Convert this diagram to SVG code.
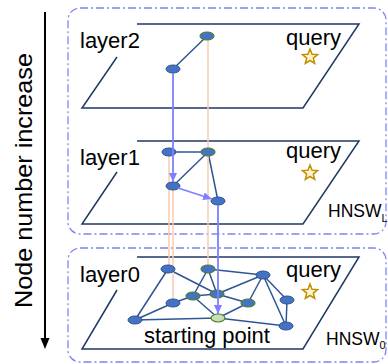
<svg xmlns="http://www.w3.org/2000/svg" width="388" height="364" viewBox="0 0 388 364">
<style>
.box{fill:none;stroke:#7F86F0;stroke-width:1.3;stroke-dasharray:8 3 2 3}
.plane{fill:none;stroke:#203864;stroke-width:1.5}
.edge{stroke:#2F5597;stroke-width:1.5;fill:none}
.up{stroke:#F8CBAD;stroke-width:1.5;fill:none}
.path{stroke:#7F7FFF;stroke-width:1.8;fill:none;marker-end:url(#ah)}
.n{fill:#4472C4;stroke:#2F528F;stroke-width:1}
.g{fill:#4472C4;stroke:#507E32;stroke-width:1.2}
.s{fill:#C5E0B4;stroke:#507E32;stroke-width:1.2}
.t{font-family:"Liberation Sans",Arial,sans-serif;font-size:22px;fill:#000}
.h{font-family:"Liberation Sans",Arial,sans-serif;font-size:17.5px;fill:#000}
.sub{font-family:"Liberation Sans",Arial,sans-serif;font-size:11px;fill:#000}
.star{fill:#FFF2CC;stroke:#BF9000;stroke-width:1.5;stroke-linejoin:miter}
</style>
<defs>
<marker id="ah" markerUnits="userSpaceOnUse" markerWidth="9" markerHeight="8" refX="9" refY="4" orient="auto">
<path d="M0,0 L9,4 L0,8 z" fill="#7F7FFF"/>
</marker>
<polygon id="star" points="0,-8 2.06,-2.83 7.61,-2.47 3.33,1.08 4.70,6.47 0,3.5 -4.70,6.47 -3.33,1.08 -7.61,-2.47 -2.06,-2.83"/>
</defs>

<g id="axis">
<line x1="45" y1="12" x2="45" y2="340" stroke="#000" stroke-width="2"/>
<path d="M40.5,338 L49.5,338 L45,349 z" fill="#000"/>
<text class="t" transform="translate(32,180.5) rotate(-90)" text-anchor="middle" font-size="24" textLength="255" lengthAdjust="spacingAndGlyphs" style="font-size:24px">Node number increase</text>
</g>

<g id="hnswL">
<rect class="box" x="68" y="8" width="318" height="226" rx="12"/>
<text class="h" x="328" y="217">HNSW<tspan class="sub" dy="5">L</tspan></text>
</g>
<g id="hnsw0">
<rect class="box" x="68" y="248" width="318" height="114" rx="12"/>
<text class="h" x="326" y="345">HNSW<tspan class="sub" dy="4">0</tspan></text>
</g>

<g id="layer2">
<path class="plane" d="M137,24 L359,24 L303,108 L82,108 L117,57"/>
<text class="t" x="80" y="48">layer2</text>
<text class="t" x="286" y="45">query</text>
<use href="#star" class="star" x="310" y="57"/>
</g>
<g id="layer1">
<path class="plane" d="M137,141 L359,141 L303,224 L82,224 L117,172"/>
<text class="t" x="80" y="165">layer1</text>
<text class="t" x="286" y="158">query</text>
<use href="#star" class="star" x="310" y="173"/>
</g>
<g id="layer0">
<path class="plane" d="M137,257 L359,257 L303,349 L82,349 L117,290"/>
<text class="t" x="80" y="282">layer0</text>
<text class="t" x="286" y="277">query</text>
<use href="#star" class="star" x="310" y="292"/>
<text class="t" x="144" y="343">starting point</text>
</g>

<g id="connectors">
<line class="edge" x1="173" y1="69" x2="207" y2="36"/>
<line class="edge" x1="169" y1="152" x2="208" y2="152"/>
<line class="edge" x1="208" y1="152" x2="173" y2="186"/>
<line class="edge" x1="208" y1="152" x2="218" y2="201"/>
<line class="edge" x1="168" y1="269" x2="135" y2="320"/>
<line class="edge" x1="168" y1="269" x2="217" y2="294"/>
<line class="edge" x1="173" y1="303" x2="135" y2="320"/>
<line class="edge" x1="173" y1="303" x2="193" y2="296"/>
<line class="edge" x1="135" y1="320" x2="218" y2="318"/>
<line class="edge" x1="208" y1="269" x2="193" y2="296"/>
<line class="edge" x1="208" y1="269" x2="217" y2="294"/>
<line class="edge" x1="208" y1="269" x2="263" y2="275"/>
<line class="edge" x1="193" y1="296" x2="217" y2="294"/>
<line class="edge" x1="193" y1="296" x2="218" y2="318"/>
<line class="edge" x1="217" y1="294" x2="263" y2="275"/>
<line class="edge" x1="217" y1="294" x2="248" y2="303"/>
<line class="edge" x1="248" y1="303" x2="218" y2="318"/>
<line class="edge" x1="248" y1="303" x2="263" y2="275"/>
<line class="edge" x1="263" y1="275" x2="287" y2="300"/>
<line class="edge" x1="263" y1="275" x2="286" y2="326"/>
<line class="edge" x1="287" y1="300" x2="286" y2="326"/>
<line class="edge" x1="218" y1="318" x2="286" y2="326"/>
<line class="up" x1="208" y1="40" x2="208" y2="265"/>
<line class="up" x1="169" y1="156" x2="169" y2="265"/>
<line class="up" x1="173" y1="190" x2="173" y2="299"/>
</g>

<g id="nodes">
<ellipse id="l2a" class="g" cx="207" cy="36" rx="7" ry="4"/>
<ellipse id="l2b" class="n" cx="173" cy="69" rx="7" ry="4"/>
<ellipse id="l1a" class="n" cx="169" cy="152" rx="7" ry="4"/>
<ellipse id="l1b" class="g" cx="208" cy="152" rx="7" ry="4"/>
<ellipse id="l1c" class="n" cx="173" cy="186" rx="7" ry="4"/>
<ellipse id="l1d" class="n" cx="218" cy="201" rx="7" ry="4"/>
<ellipse id="l0a" class="n" cx="168" cy="269" rx="7" ry="4"/>
<ellipse id="l0b" class="g" cx="208" cy="269" rx="7" ry="4"/>
<ellipse id="l0c" class="n" cx="263" cy="275" rx="7" ry="4"/>
<ellipse id="l0d" class="g" cx="193" cy="296" rx="7" ry="4"/>
<ellipse id="l0e" class="g" cx="217" cy="294" rx="7" ry="4"/>
<ellipse id="l0f" class="n" cx="173" cy="303" rx="7" ry="4"/>
<ellipse id="l0g" class="g" cx="248" cy="303" rx="7" ry="4"/>
<ellipse id="l0h" class="n" cx="287" cy="300" rx="7" ry="4"/>
<ellipse id="l0i" class="n" cx="135" cy="320" rx="7" ry="4"/>
<ellipse id="l0j" class="s" cx="218" cy="318" rx="7" ry="4"/>
<ellipse id="l0k" class="n" cx="286" cy="326" rx="7" ry="4"/>
</g>

<g id="search-path">
<line class="path" x1="173" y1="73" x2="173" y2="182"/>
<line class="path" x1="178" y1="188" x2="212" y2="199"/>
<line class="path" x1="218" y1="205" x2="218" y2="314"/>
</g>
</svg>
